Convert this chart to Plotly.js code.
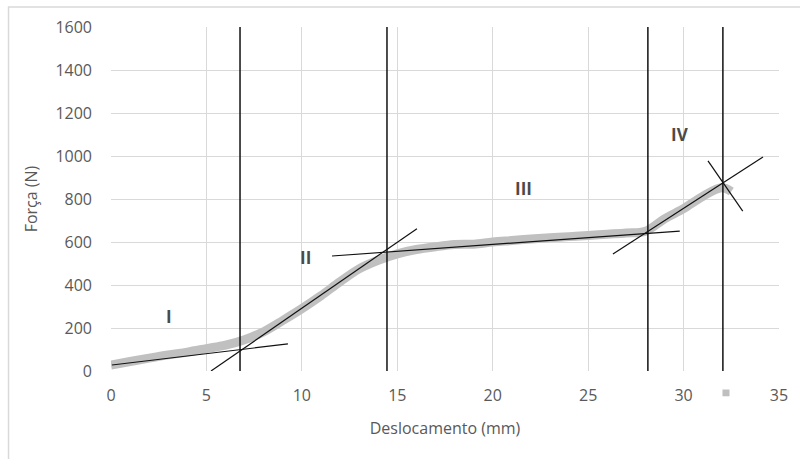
<!DOCTYPE html>
<html>
<head>
<meta charset="utf-8">
<script src="https://cdn.plot.ly/plotly-3.0.1.min.js"></script>
<style>html,body{margin:0;padding:0;background:#fff;}#chart{width:800px;height:459px;}</style>
</head>
<body>
<div id="chart"></div>
<script>
// Experimental curve (gray band)
const curveX = [0, 1, 2, 3, 4, 5, 6, 7, 8, 9, 10, 11, 12, 13, 14, 15, 16, 17, 18, 19, 20, 21, 22, 23, 24, 25, 26, 27, 28, 29, 30, 31, 32, 32.5];
const curveY = [28, 44, 60, 75, 88, 104, 120, 145, 183, 235, 290, 350, 415, 475, 515, 545, 565, 578, 588, 590, 600, 607, 614, 620, 625, 630, 636, 642, 650, 708, 755, 812, 852, 835];

// Tangent lines (start, end)
const tanIX = [0.05, 9.27],  tanIY = [28, 126];
const tanIIX = [5.24, 16.03], tanIIY = [0, 662];
const tanIIIX = [11.58, 29.8], tanIIIY = [535, 651];
const tanIVX = [26.3, 34.16], tanIVY = [544, 995];
const normIVX = [31.28, 33.1], normIVY = [977, 744];

// Vertical boundary lines
const boundaries = [6.76, 14.46, 28.13, 32.06];
const boundaryY = [-15, 1610];

// Region labels
const regionNames = ['I', 'II', 'III', 'IV'];
const regionX = [3.05, 10.17, 21.6, 29.8];
const regionY = [255, 530, 850, 1100];

const xTicks = [0, 5, 10, 15, 20, 25, 30, 35];
const yTicks = [0, 200, 400, 600, 800, 1000, 1200, 1400, 1600];

const traces = [];
traces.push({x: curveX, y: curveY, mode: 'lines', line: {color: '#c0c0c0', width: 9, shape: 'spline'}, showlegend: false, hoverinfo: 'skip'});
const thin = (xs, ys) => ({x: xs, y: ys, mode: 'lines', line: {color: '#111', width: 1.2}, showlegend: false, cliponaxis: false, hoverinfo: 'skip'});
traces.push(thin(tanIX, tanIY));
traces.push(thin(tanIIX, tanIIY));
traces.push(thin(tanIIIX, tanIIIY));
traces.push(thin(tanIVX, tanIVY));
traces.push(thin(normIVX, normIVY));
boundaries.forEach(b => {
  traces.push({x: [b, b], y: boundaryY, mode: 'lines', line: {color: '#111', width: 1.5}, showlegend: false, cliponaxis: false, hoverinfo: 'skip'});
});

const annotations = regionNames.map((t, i) => ({
  x: regionX[i], y: regionY[i], xref: 'x', yref: 'y', text: '<b>' + t + '</b>', showarrow: false,
  font: {family: 'Open Sans', size: 17, color: '#4a4a4a'}
}));

const layout = {
  width: 800, height: 459,
  margin: {l: 111, r: 21, t: 27, b: 88},
  paper_bgcolor: '#fff', plot_bgcolor: '#fff',
  showlegend: false,
  xaxis: {
    range: [0, 35], tickvals: xTicks, ticktext: xTicks.map(String),
    showgrid: true, gridcolor: '#d9d9d9', gridwidth: 1, zeroline: false, showline: false,
    tickfont: {family: 'Open Sans', size: 16, color: '#595959'},
    ticks: '', ticklabelstandoff: 13,
    title: {text: 'Deslocamento (mm)', font: {family: 'Open Sans', size: 16, color: '#595959'}, standoff: 17},
    fixedrange: true
  },
  yaxis: {
    range: [0, 1600], tickvals: yTicks, ticktext: yTicks.map(String),
    showgrid: true, gridcolor: '#d9d9d9', gridwidth: 1, zeroline: false, showline: false,
    tickfont: {family: 'Open Sans', size: 16, color: '#595959'},
    ticks: '', ticklabelstandoff: 18,
    title: {text: 'Força (N)', font: {family: 'Open Sans', size: 16, color: '#595959'}, standoff: 13},
    fixedrange: true
  },
  annotations: annotations,
  shapes: [
    {type: 'rect', xref: 'paper', yref: 'paper', x0: -0.1534, x1: 1.2, y0: -0.4, y1: 1.0581, line: {color: '#d9d9d9', width: 1.5}, fillcolor: 'rgba(0,0,0,0)'},
    {type: 'rect', xref: 'paper', yref: 'paper', x0: 0.9154, x1: 0.9259, y0: -0.0735, y1: -0.0538, line: {width: 0}, fillcolor: '#bfbfbf'}
  ]
};

Plotly.newPlot('chart', traces, layout, {displayModeBar: false, staticPlot: true});
</script>
</body>
</html>
